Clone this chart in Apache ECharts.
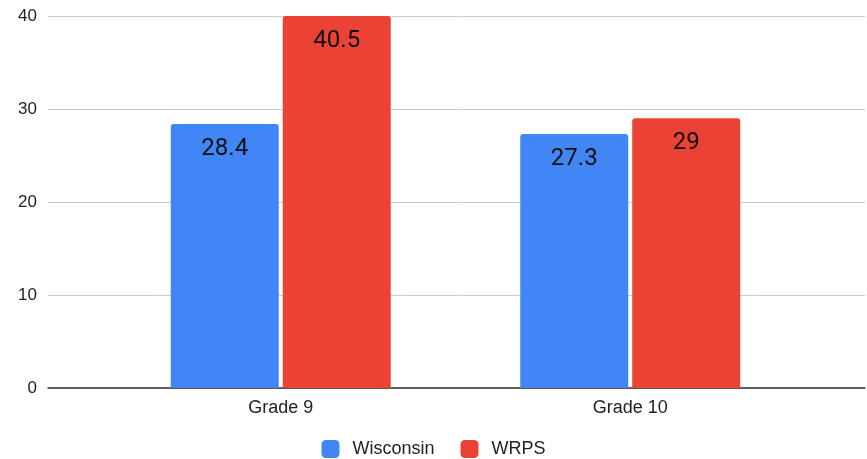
<!DOCTYPE html>
<html>
<head>
<meta charset="utf-8">
<script src="https://cdn.jsdelivr.net/npm/echarts@6/dist/echarts.min.js"></script>
<style>
  html, body { margin: 0; padding: 0; background: #fff; }
  #chart { width: 867px; height: 459px; }
</style>
</head>
<body>
<div id="chart"></div>
<script>
// data
var categories = ['Grade 9', 'Grade 10'];
var wisconsin = [28.4, 27.3];
var wrps = [40.5, 29];
var yTicks = [0, 10, 20, 30, 40];

var chart = echarts.init(document.getElementById('chart'));
var axisFont = 'Liberation Sans, Arial, sans-serif';

chart.setOption({
  backgroundColor: '#fff',
  animation: false,
  legend: {
    bottom: -4,
    left: 'center',
    itemWidth: 18,
    itemHeight: 18,
    itemGap: 26,
    icon: 'roundRect',
    textStyle: { fontSize: 18, color: '#222', fontFamily: axisFont, padding: [0, 0, 0, 8] },
    data: ['Wisconsin', 'WRPS']
  },
  grid: [
    // full width grid: gridlines and baseline
    { left: 48, right: 2, top: 16, bottom: 71 },
    // narrower grid for the bars
    { left: 106, right: 62, top: 16, bottom: 71 }
  ],
  xAxis: [
    {
      gridIndex: 0, type: 'value', min: 0, max: 1,
      axisLine: { show: true, onZero: false, lineStyle: { color: '#333', width: 1.5 } },
      axisTick: { show: false }, axisLabel: { show: false }, splitLine: { show: false }
    },
    {
      gridIndex: 1, type: 'category', data: categories,
      axisLine: { show: false }, axisTick: { show: false },
      axisLabel: { fontSize: 18, color: '#222', margin: 11, fontFamily: axisFont }
    }
  ],
  yAxis: [
    {
      gridIndex: 0, type: 'value', min: yTicks[0], max: yTicks[yTicks.length - 1], interval: 10,
      axisLine: { show: false }, axisTick: { show: false },
      axisLabel: { fontSize: 17, color: '#222', margin: 11, fontFamily: axisFont },
      splitLine: { lineStyle: { color: '#ccc' } }
    },
    {
      gridIndex: 1, type: 'value', min: 0, max: 40, interval: 10,
      axisLine: { show: false }, axisTick: { show: false },
      axisLabel: { show: false }, splitLine: { show: false }
    }
  ],
  series: [
    {
      name: 'Wisconsin', type: 'bar', xAxisIndex: 1, yAxisIndex: 1,
      data: wisconsin, barWidth: 108, barGap: '3.7%',
      itemStyle: { color: '#4285F4', borderRadius: [3, 3, 0, 0] },
      label: { show: true, position: 'insideTop', distance: 13, fontSize: 24, color: '#111', fontFamily: 'Roboto, sans-serif' }
    },
    {
      name: 'WRPS', type: 'bar', xAxisIndex: 1, yAxisIndex: 1,
      data: wrps, barWidth: 108,
      itemStyle: { color: '#EA4335', borderRadius: [3, 3, 0, 0] },
      label: { show: true, position: 'insideTop', distance: 13, fontSize: 24, color: '#111', fontFamily: 'Roboto, sans-serif' }
    }
  ]
});
</script>
</body>
</html>
